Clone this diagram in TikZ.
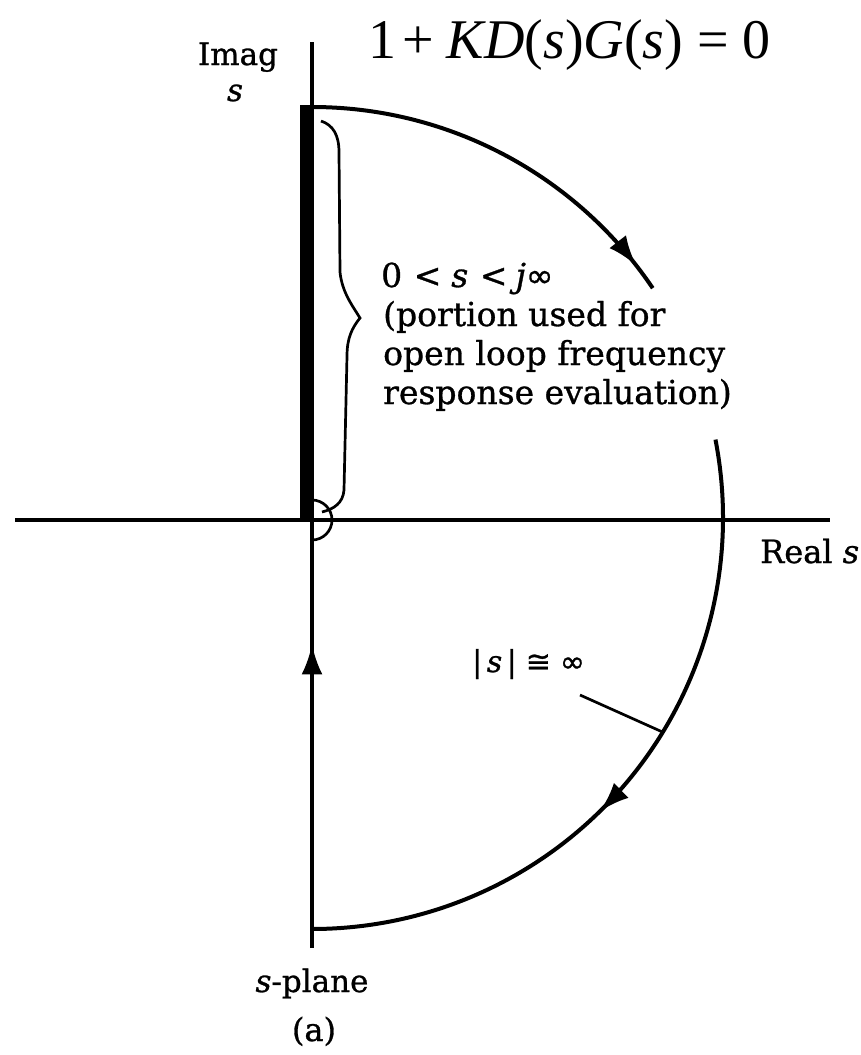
\documentclass[tikz,border=0pt]{standalone}
\usepackage{fontspec}
\setmainfont{DejaVu Serif}[FakeBold=0.9]
\newfontfamily\tnrfont{Liberation Serif}
\newfontfamily\symfont{DejaVu Sans}[FakeBold=0.9]
\usetikzlibrary{arrows.meta,decorations.markings,calc}
\begin{document}
\begin{tikzpicture}[x=1pt,y=1pt,
  curve/.style={line width=4pt},
  axisline/.style={line width=3.3pt},
  thinline/.style={line width=2.7pt},
  lbl/.style={inner sep=0pt, font=\fontsize{33}{39}\selectfont},
  markat/.style={postaction={decorate},decoration={markings,mark=at position #1 with {\arrow{Latex[length=30pt,width=21pt]}}}}]
\useasboundingbox (0,0) rectangle (861,-1055);
% key points
\coordinate (C) at (312,-518);
\coordinate (ytop) at (312,-42);
\coordinate (ybot) at (312,-948);
\coordinate (xl) at (15,-520);
\coordinate (xr) at (830,-520);
\coordinate (arctop) at ($(C)+(90:411)$);
\coordinate (arcgapB) at ($(C)+(11:411)$);
\coordinate (lead) at ($(C)+(-31.4:411)$);
\coordinate (leadstart) at (580,-695);
% axes
\draw[axisline] (xl) -- (xr);
\draw[axisline, markat=0.335] (ybot) -- (ytop);
% thick imaginary-axis portion
\fill (300,-105) rectangle (314,-521);
% contour arcs
\draw[curve, markat=0.93] (arctop) arc[start angle=90, end angle=34, radius=411];
\draw[curve, markat=0.56] (arcgapB) arc[start angle=11, end angle=-90, radius=411];
% small indentation round origin
\draw[thinline] (312,-500) arc[start angle=90, end angle=-90, radius=20];
% brace
\draw[thinline] (321,-121) .. controls (333,-125) and (339,-135) .. (339,-152)
  -- (340,-272) .. controls (342,-292) and (352,-305) .. (360,-318)
  .. controls (352,-328) and (347,-338) .. (347,-356)
  -- (344,-490) .. controls (343,-503) and (334,-509) .. (322,-512);
% leader for |s|
\draw[thinline] (leadstart) -- (lead);
% labels
\node[inner sep=0pt, anchor=base west, font=\tnrfont\fontsize{56}{60}\selectfont] (eq) at (368,-58)
  {1\hspace{0.12em}+\hspace{0.22em}\textit{KD}(\textit{s})\textit{G}(\textit{s})\hspace{0.25em}=\hspace{0.25em}0};
\node[lbl, anchor=base, font=\fontsize{31}{36}\selectfont] (imag) at (238,-65) {Imag};
\node[lbl, anchor=base, font=\fontsize{31}{36}\selectfont] (imags) at (235,-101) {\textit{s}};
\node[lbl, anchor=base west, font=\fontsize{32}{36}\selectfont] (real) at (760,-563) {Real \textit{s}};
\node[lbl, anchor=base west] (t1) at (381,-287) {0\hspace{0.35em}<\hspace{0.3em}\textit{s}\hspace{0.35em}<\hspace{0.25em}\textit{j}{\symfont ∞}};
\node[lbl, anchor=base west] (t2) at (383,-326) {(portion used for};
\node[lbl, anchor=base west] (t3) at (383,-365) {open loop frequency};
\node[lbl, anchor=base west] (t4) at (383,-404) {response evaluation)};
\node[lbl, anchor=base west, font=\fontsize{30}{36}\selectfont] (mag) at (472,-672) {|\hspace{0.15em}\textit{s}\hspace{0.15em}|\hspace{0.3em}{\symfont ≅}\hspace{0.3em}{\symfont ∞}};
\node[lbl, anchor=base, font=\fontsize{31}{36}\selectfont] (plane) at (312,-992) {\textit{s}-plane};
\node[lbl, anchor=base, font=\fontsize{32}{36}\selectfont] (sub) at (314,-1041) {(a)};
\end{tikzpicture}
\end{document}
